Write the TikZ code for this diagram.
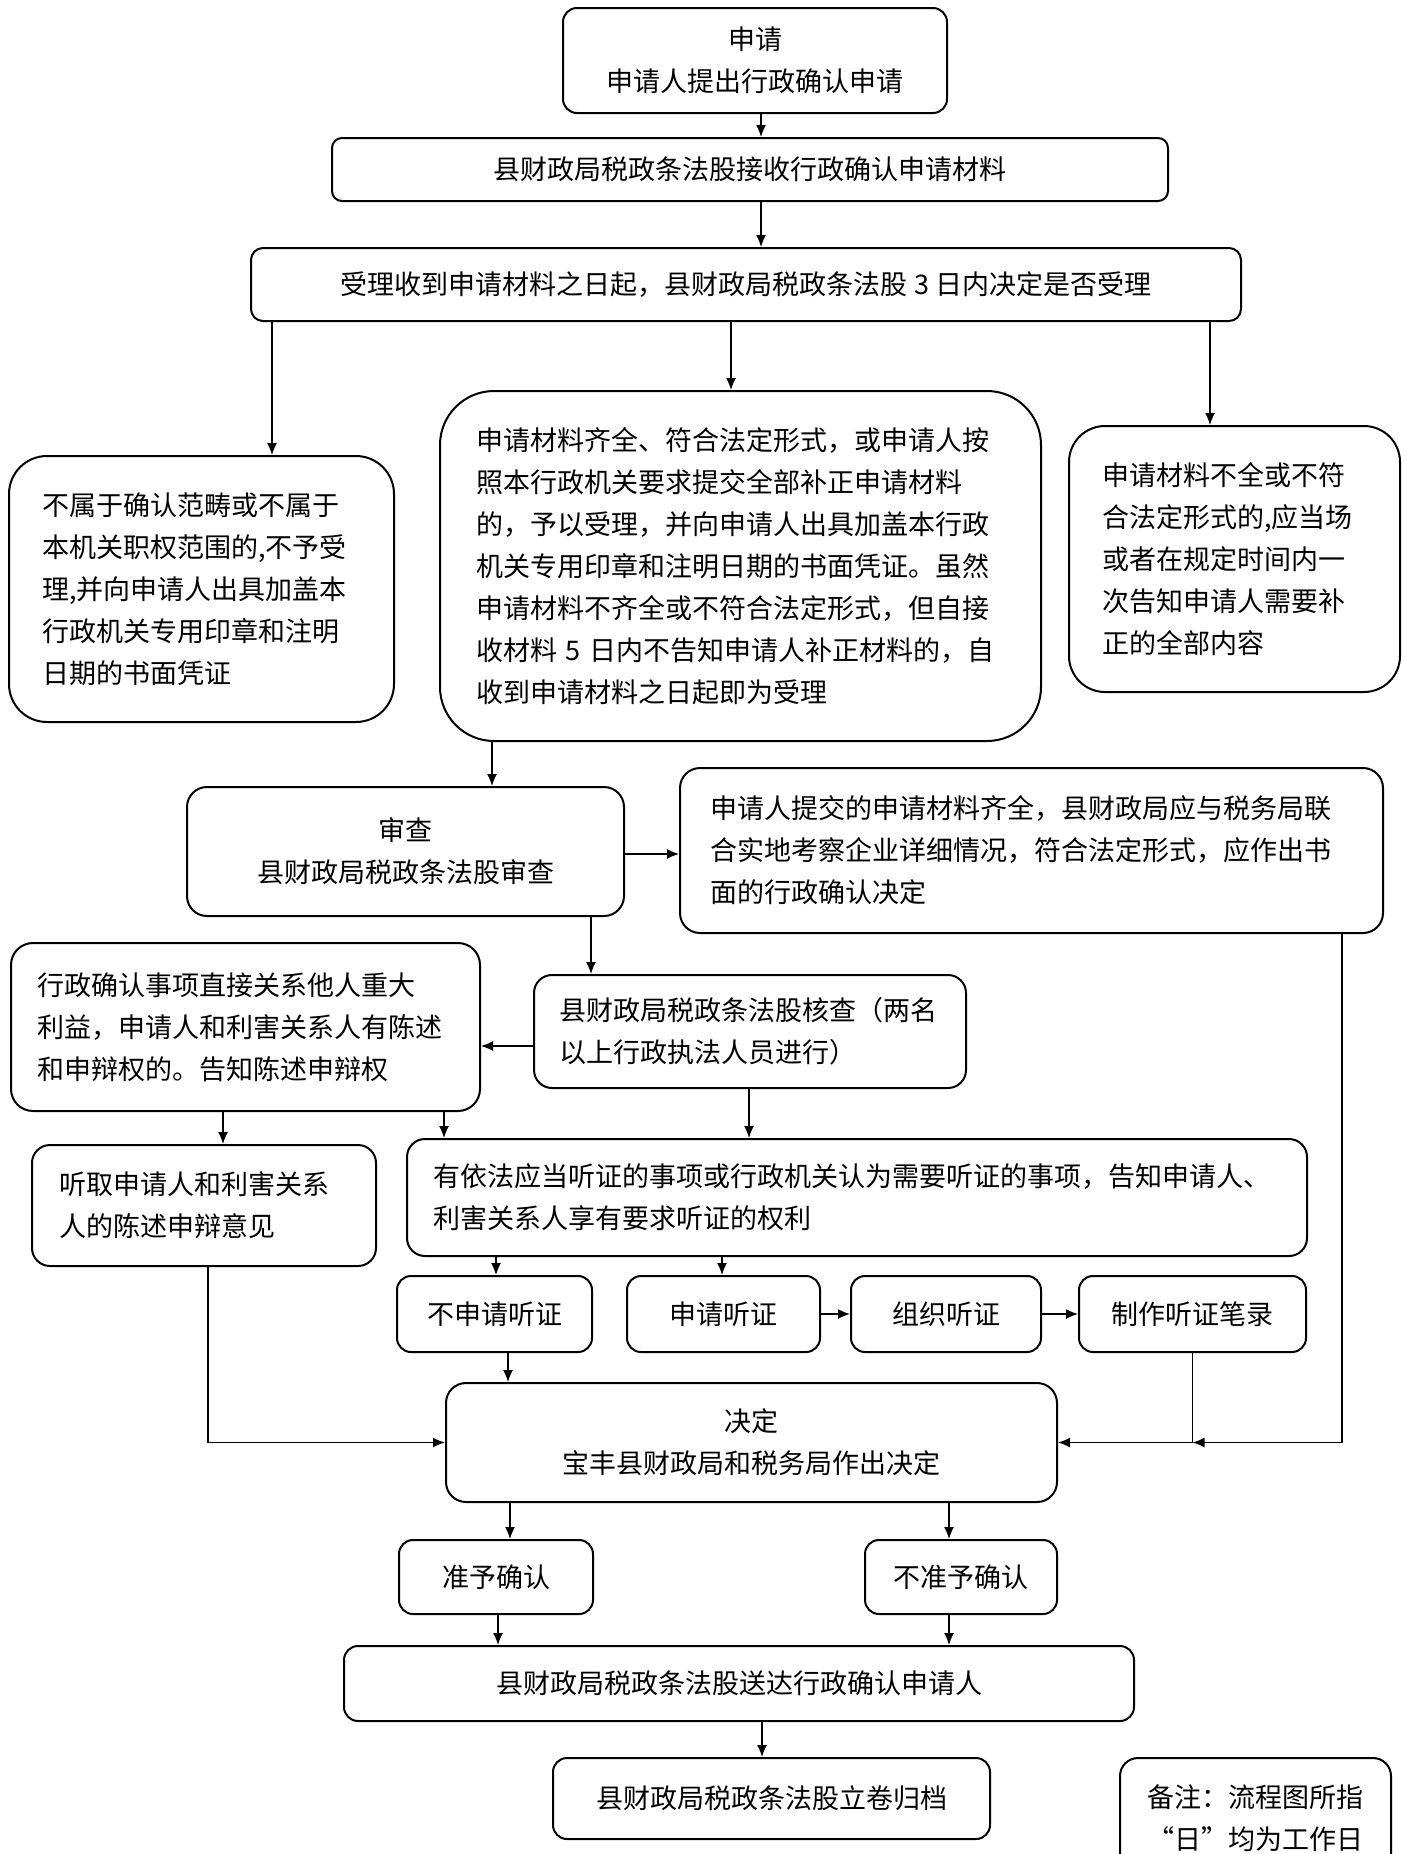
\documentclass[tikz,border=0pt]{standalone}
\usepackage{fontspec}
\newfontfamily\cjk{Noto Sans CJK SC}
\usetikzlibrary{shapes,arrows.meta}
\tikzstyle{line} = [draw, line width=0.7pt, -{Latex[length=6pt,width=5pt]}]
\tikzstyle{box} = [draw, line width=1pt, rounded corners=6pt, align=center, inner sep=0pt, font=\cjk\fontsize{13.5pt}{21pt}\selectfont]
\tikzstyle{para} = [box, align=left]
\tikzstyle{small} = [box, minimum height=38pt, rounded corners=7pt]

\begin{document}
\begin{tikzpicture}[x=0.5pt,y=-0.5pt]
  \path[use as bounding box, fill=white] (0,0) rectangle (1407,1854);

  \node[box, minimum width=192pt, minimum height=52.5pt, rounded corners=7pt] (apply) at (755,60.5) {申请\\申请人提出行政确认申请};
  \node[box, minimum width=418pt, minimum height=31.5pt, rounded corners=5pt] (receive) at (750,169.5) {县财政局税政条法股接收行政确认申请材料};
  \node[box, minimum width=495pt, minimum height=36.5pt, rounded corners=6pt] (accept) at (746,284.5) {受理收到申请材料之日起，县财政局税政条法股 3 日内决定是否受理};

  \node[para, text width=159.5pt, inner xsep=16.5pt, minimum height=133pt, rounded corners=19pt] (reject) at (201.5,589)
    {不属于确认范畴或不属于\\本机关职权范围的,不予受\\理,并向申请人出具加盖本\\行政机关专用印章和注明\\日期的书面凭证};
  \node[para, text width=264.5pt, inner xsep=18pt, minimum height=175pt, rounded corners=27pt] (ok) at (740.5,566)
    {申请材料齐全、符合法定形式，或申请人按\\照本行政机关要求提交全部补正申请材料\\的，予以受理，并向申请人出具加盖本行政\\机关专用印章和注明日期的书面凭证。虽然\\申请材料不齐全或不符合法定形式，但自接\\收材料 5 日内不告知申请人补正材料的，自\\收到申请材料之日起即为受理};
  \node[para, text width=132.5pt, inner xsep=16.5pt, minimum height=133pt, rounded corners=18pt] (notify) at (1234.5,559)
    {申请材料不全或不符\\合法定形式的,应当场\\或者在规定时间内一\\次告知申请人需要补\\正的全部内容};

  \node[box, minimum width=218.5pt, minimum height=64.5pt, rounded corners=10pt] (review) at (405.5,851.5) {审查\\县财政局税政条法股审查};
  \node[para, text width=321.5pt, inner xsep=15pt, minimum height=82.5pt, rounded corners=10pt] (confirm) at (1031.5,850.5)
    {申请人提交的申请材料齐全，县财政局应与税务局联\\合实地考察企业详细情况，符合法定形式，应作出书\\面的行政确认决定};
  \node[para, text width=191pt, inner xsep=12.5pt, minimum height=56.5pt, rounded corners=9pt] (check) at (750,1031.5)
    {县财政局税政条法股核查（两名\\以上行政执法人员进行）};
  \node[para, text width=207.5pt, inner xsep=13.5pt, minimum height=84pt, rounded corners=11pt] (inform) at (245.5,1027)
    {行政确认事项直接关系他人重大\\利益，申请人和利害关系人有陈述\\和申辩权的。告知陈述申辩权};
  \node[para, text width=145pt, inner xsep=13.5pt, minimum height=60.5pt, rounded corners=9pt] (listen) at (204,1205.5)
    {听取申请人和利害关系\\人的陈述申辩意见};
  \node[para, text width=424pt, inner xsep=13pt, minimum height=58.5pt, rounded corners=9pt] (hearing) at (857,1197.5)
    {有依法应当听证的事项或行政机关认为需要听证的事项，告知申请人、\\利害关系人享有要求听证的权利};

  \node[small, minimum width=97.5pt] (nohear) at (494.5,1314) {不申请听证};
  \node[small, minimum width=96.5pt] (askhear) at (723.5,1314) {申请听证};
  \node[small, minimum width=95pt] (organize) at (946,1314) {组织听证};
  \node[small, minimum width=113.5pt] (record) at (1192.5,1314) {制作听证笔录};

  \node[box, minimum width=305.5pt, minimum height=59.5pt, rounded corners=10pt] (decide) at (751.5,1442.5) {决定\\宝丰县财政局和税务局作出决定};
  \node[small, minimum width=97pt, minimum height=37pt] (grant) at (496,1577) {准予确认};
  \node[small, minimum width=96pt, minimum height=37pt] (deny) at (961,1577) {不准予确认};
  \node[box, minimum width=395pt, minimum height=37.5pt, rounded corners=7pt] (deliver) at (739,1683.5) {县财政局税政条法股送达行政确认申请人};
  \node[box, minimum width=218.5pt, minimum height=40.5pt, rounded corners=7pt] (archive) at (771.5,1798.5) {县财政局税政条法股立卷归档};
  \node[box, minimum width=135.5pt, minimum height=60pt, rounded corners=9pt] (note) at (1255.5,1818) {备注：流程图所指\\“日”均为工作日};

  % acceptance
  \path [line] (apply.south -| 761,0) -- (receive.north -| 761,0);
  \path [line] (receive.south -| 761,0) -- (accept.north -| 761,0);
  \path [line] (accept.south -| 272,0) -- (reject.north -| 272,0);
  \path [line] (accept.south -| 731,0) -- (ok.north -| 731,0);
  \path [line] (accept.south -| 1210,0) -- (notify.north -| 1210,0);

  % review and check
  \path [line] (ok.south -| 492,0) -- (review.north -| 492,0);
  \path [line] (review.east |- 0,854) -- (confirm.west |- 0,854);
  \path [line] (review.south -| 591,0) -- (check.north -| 591,0);
  \path [line] (check.west |- 0,1046) -- (inform.east |- 0,1046);
  \path [line] (inform.south -| 223,0) -- (listen.north -| 223,0);
  \path [line] (inform.south -| 444,0) -- (hearing.north -| 444,0);
  \path [line] (check.south -| 749,0) -- (hearing.north -| 749,0);

  % hearing
  \path [line] (hearing.south -| 496,0) -- (nohear.north -| 496,0);
  \path [line] (hearing.south -| 722,0) -- (askhear.north -| 722,0);
  \path [line] (askhear) -- (organize);
  \path [line] (organize) -- (record);

  % decision
  \path [line] (nohear.south -| 508,0) -- (decide.north -| 508,0);
  \path [line] (listen.south -| 208,0) |- (decide.west);
  \path [line] (record.south) |- (decide.east);
  \path [line] (confirm.south -| 1342,0) |- (record.south |- decide.east);
  \path [line] (decide.south -| 510,0) -- (grant.north -| 510,0);
  \path [line] (decide.south -| 949,0) -- (deny.north -| 949,0);
  \path [line] (grant.south -| 498,0) -- (deliver.north -| 498,0);
  \path [line] (deny.south -| 949,0) -- (deliver.north -| 949,0);
  \path [line] (deliver.south -| 762,0) -- (archive.north -| 762,0);
\end{tikzpicture}
\end{document}
